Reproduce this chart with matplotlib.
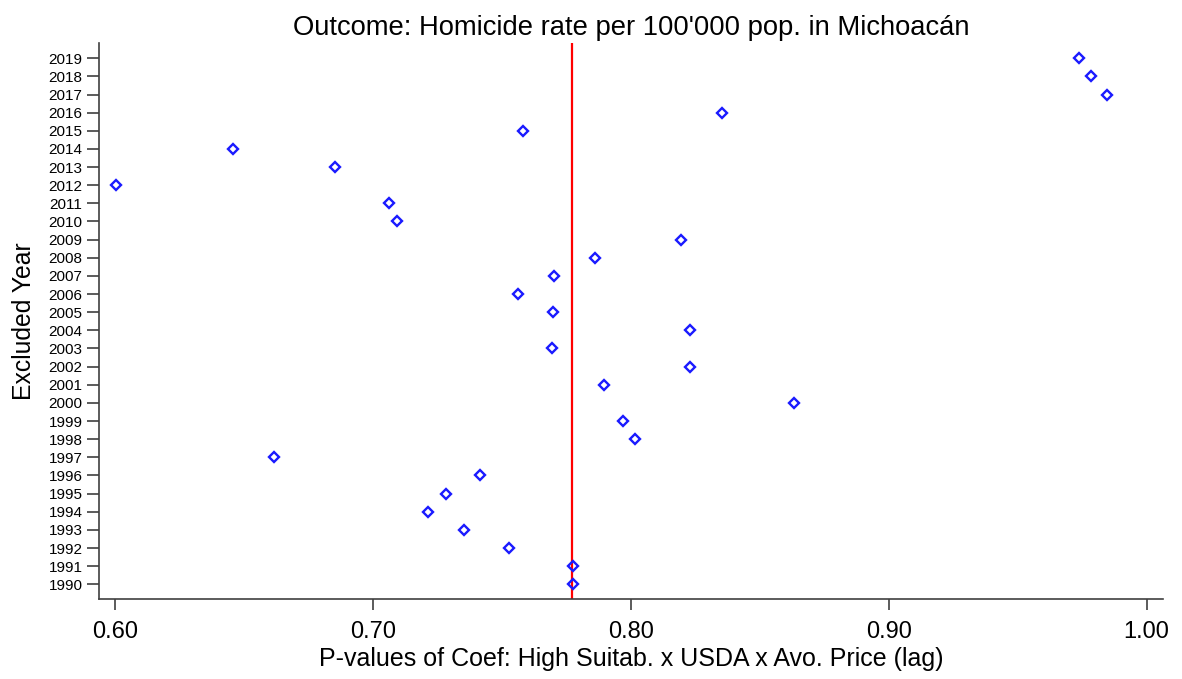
import matplotlib
matplotlib.use("Agg")
import matplotlib.pyplot as plt

plt.rcParams['font.family'] = ['Liberation Sans', 'DejaVu Sans']

years = list(range(1990, 2020))
pvalues = [0.7775, 0.7775, 0.7526, 0.7355, 0.7212, 0.7282, 0.7414, 0.6617,
           0.8016, 0.7969, 0.8633, 0.7895, 0.8229, 0.7693, 0.8229, 0.7697,
           0.7561, 0.7701, 0.7860, 0.8194, 0.7095, 0.7064, 0.6004, 0.6854,
           0.6458, 0.7581, 0.8353, 0.9845, 0.9783, 0.9736]
baseline = 0.7771
xticks = [0.60, 0.70, 0.80, 0.90, 1.00]
xticklabels = ["0.60", "0.70", "0.80", "0.90", "1.00"]

fig = plt.figure(figsize=(11.82, 6.79), dpi=100)
ax = fig.add_axes([0.0838, 0.1178, 0.9002, 0.8189])

ax.axvline(baseline, color='#ff0000', lw=1.6, zorder=1)
ax.plot(pvalues, years, linestyle='none', marker='D', markersize=4.8,
        markerfacecolor='none', markeredgecolor='#1a1aff', markeredgewidth=1.7, zorder=3)

ax.set_xlim(0.5938, 1.0064)
ax.set_ylim(1989.19, 2019.84)
ax.set_xticks(xticks)
ax.set_xticklabels(xticklabels, fontsize=17)
ax.set_yticks(years)
ax.set_yticklabels([str(y) for y in years], fontsize=11)

for s in ['top', 'right']:
    ax.spines[s].set_visible(False)
for s in ['left', 'bottom']:
    ax.spines[s].set_color('#404040')
    ax.spines[s].set_linewidth(1.2)
ax.tick_params(axis='y', length=9, width=1.2, color='#404040', pad=3)
ax.tick_params(axis='x', length=8, width=1.2, color='#404040', pad=8)

ax.set_title("Outcome: Homicide rate per 100'000 pop. in Michoacán", fontsize=19.7, pad=6)
ax.set_xlabel("P-values of Coef: High Suitab. x USDA x Avo. Price (lag)", fontsize=18, labelpad=3)
ax.set_ylabel("Excluded Year", fontsize=17.8, labelpad=9)

fig.savefig("out.png", dpi=100)
